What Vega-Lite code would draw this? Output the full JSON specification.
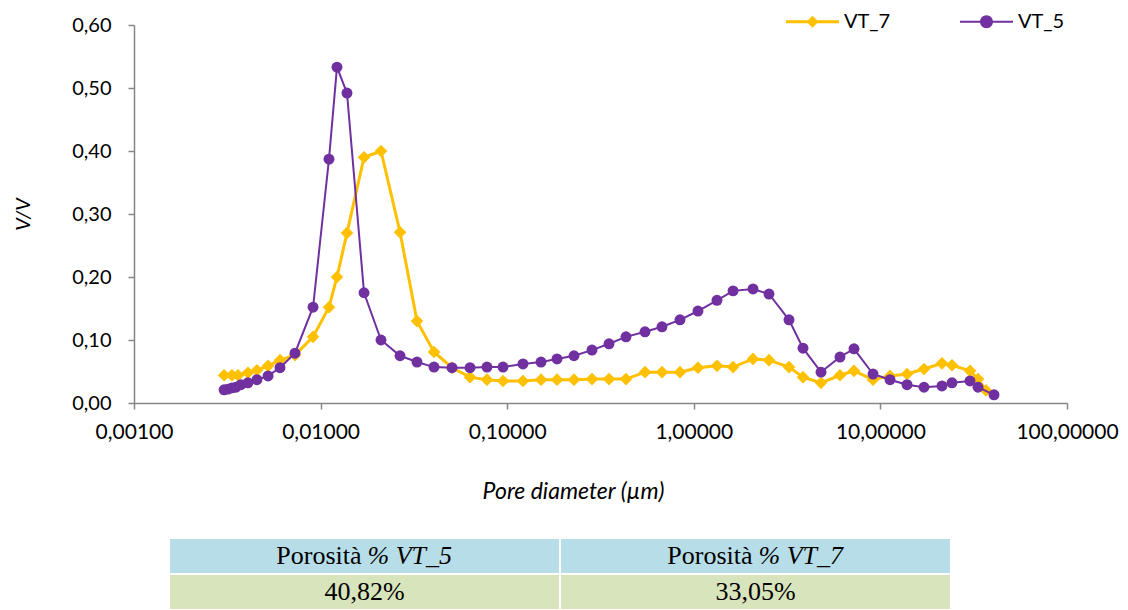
{
  "$schema": "https://vega.github.io/schema/vega-lite/v6.json",
  "padding": {"left": 13, "top": 8, "right": 5, "bottom": 0},
  "bounds": "flush",
  "spacing": 135,
  "config": {"view": {"stroke": null}, "font": "Lato"},
  "resolve": {"scale": {"color": "independent", "shape": "independent", "fill": "independent"}, "legend": {"color": "independent", "shape": "independent", "fill": "independent"}},
  "vconcat": [
    {
      "width": 933,
      "height": 378,
      "data": {"values": [
        {"d":0.00304,"v":0.044,"s":"VT_7"},{"d":0.00335,"v":0.044,"s":"VT_7"},{"d":0.00361,"v":0.044,"s":"VT_7"},{"d":0.00408,"v":0.048,"s":"VT_7"},
        {"d":0.00456,"v":0.052,"s":"VT_7"},{"d":0.00523,"v":0.059,"s":"VT_7"},{"d":0.00606,"v":0.068,"s":"VT_7"},{"d":0.00729,"v":0.076,"s":"VT_7"},
        {"d":0.00911,"v":0.105,"s":"VT_7"},{"d":0.01109,"v":0.152,"s":"VT_7"},{"d":0.01224,"v":0.200,"s":"VT_7"},{"d":0.01385,"v":0.270,"s":"VT_7"},
        {"d":0.01709,"v":0.390,"s":"VT_7"},{"d":0.02107,"v":0.400,"s":"VT_7"},{"d":0.02665,"v":0.271,"s":"VT_7"},{"d":0.03285,"v":0.130,"s":"VT_7"},
        {"d":0.04053,"v":0.081,"s":"VT_7"},{"d":0.05061,"v":0.056,"s":"VT_7"},{"d":0.06321,"v":0.041,"s":"VT_7"},{"d":0.07793,"v":0.037,"s":"VT_7"},
        {"d":0.09495,"v":0.035,"s":"VT_7"},{"d":0.1215,"v":0.035,"s":"VT_7"},{"d":0.1518,"v":0.037,"s":"VT_7"},{"d":0.1849,"v":0.037,"s":"VT_7"},
        {"d":0.2280,"v":0.037,"s":"VT_7"},{"d":0.2847,"v":0.038,"s":"VT_7"},{"d":0.3513,"v":0.038,"s":"VT_7"},{"d":0.4331,"v":0.038,"s":"VT_7"},
        {"d":0.5477,"v":0.049,"s":"VT_7"},{"d":0.6753,"v":0.049,"s":"VT_7"},{"d":0.8433,"v":0.049,"s":"VT_7"},{"d":1.053,"v":0.056,"s":"VT_7"},
        {"d":1.331,"v":0.059,"s":"VT_7"},{"d":1.623,"v":0.057,"s":"VT_7"},{"d":2.077,"v":0.070,"s":"VT_7"},{"d":2.529,"v":0.068,"s":"VT_7"},
        {"d":3.237,"v":0.057,"s":"VT_7"},{"d":3.848,"v":0.041,"s":"VT_7"},{"d":4.805,"v":0.032,"s":"VT_7"},{"d":6.074,"v":0.044,"s":"VT_7"},
        {"d":7.219,"v":0.051,"s":"VT_7"},{"d":9.130,"v":0.037,"s":"VT_7"},{"d":11.26,"v":0.043,"s":"VT_7"},{"d":13.89,"v":0.046,"s":"VT_7"},
        {"d":17.13,"v":0.054,"s":"VT_7"},{"d":21.38,"v":0.063,"s":"VT_7"},{"d":24.19,"v":0.060,"s":"VT_7"},{"d":30.21,"v":0.051,"s":"VT_7"},
        {"d":33.35,"v":0.038,"s":"VT_7"},{"d":36.81,"v":0.020,"s":"VT_7"},
        {"d":0.00304,"v":0.021,"s":"VT_5"},{"d":0.00319,"v":0.022,"s":"VT_5"},{"d":0.00335,"v":0.024,"s":"VT_5"},{"d":0.00352,"v":0.025,"s":"VT_5"},
        {"d":0.00374,"v":0.029,"s":"VT_5"},{"d":0.00408,"v":0.032,"s":"VT_5"},{"d":0.00456,"v":0.037,"s":"VT_5"},{"d":0.00523,"v":0.043,"s":"VT_5"},
        {"d":0.00606,"v":0.056,"s":"VT_5"},{"d":0.00729,"v":0.079,"s":"VT_5"},{"d":0.00911,"v":0.152,"s":"VT_5"},{"d":0.01109,"v":0.387,"s":"VT_5"},
        {"d":0.01224,"v":0.533,"s":"VT_5"},{"d":0.01385,"v":0.492,"s":"VT_5"},{"d":0.01709,"v":0.175,"s":"VT_5"},{"d":0.02107,"v":0.100,"s":"VT_5"},
        {"d":0.02665,"v":0.075,"s":"VT_5"},{"d":0.03285,"v":0.065,"s":"VT_5"},{"d":0.04053,"v":0.057,"s":"VT_5"},{"d":0.05061,"v":0.056,"s":"VT_5"},
        {"d":0.06321,"v":0.056,"s":"VT_5"},{"d":0.07793,"v":0.057,"s":"VT_5"},{"d":0.09495,"v":0.057,"s":"VT_5"},{"d":0.1215,"v":0.062,"s":"VT_5"},
        {"d":0.1518,"v":0.065,"s":"VT_5"},{"d":0.1849,"v":0.070,"s":"VT_5"},{"d":0.2280,"v":0.075,"s":"VT_5"},{"d":0.2847,"v":0.084,"s":"VT_5"},
        {"d":0.3513,"v":0.094,"s":"VT_5"},{"d":0.4331,"v":0.105,"s":"VT_5"},{"d":0.5477,"v":0.113,"s":"VT_5"},{"d":0.6753,"v":0.121,"s":"VT_5"},
        {"d":0.8433,"v":0.132,"s":"VT_5"},{"d":1.053,"v":0.146,"s":"VT_5"},{"d":1.331,"v":0.163,"s":"VT_5"},{"d":1.623,"v":0.178,"s":"VT_5"},
        {"d":2.077,"v":0.181,"s":"VT_5"},{"d":2.529,"v":0.173,"s":"VT_5"},{"d":3.237,"v":0.132,"s":"VT_5"},{"d":3.848,"v":0.087,"s":"VT_5"},
        {"d":4.805,"v":0.049,"s":"VT_5"},{"d":6.074,"v":0.073,"s":"VT_5"},{"d":7.219,"v":0.086,"s":"VT_5"},{"d":9.130,"v":0.046,"s":"VT_5"},
        {"d":11.26,"v":0.037,"s":"VT_5"},{"d":13.89,"v":0.029,"s":"VT_5"},{"d":17.13,"v":0.025,"s":"VT_5"},{"d":21.38,"v":0.027,"s":"VT_5"},
        {"d":24.19,"v":0.032,"s":"VT_5"},{"d":30.21,"v":0.035,"s":"VT_5"},{"d":33.35,"v":0.025,"s":"VT_5"},{"d":40.63,"v":0.013,"s":"VT_5"}
      ]},
      "encoding": {
        "x": {
          "field": "d", "type": "quantitative",
          "scale": {"type": "log", "domain": [0.001, 100]},
          "title": "Pore diameter (µm)",
          "axis": {
            "values": [0.001, 0.01, 0.1, 1, 10, 100],
            "labelExpr": "replace(format(datum.value, '.5f'), '.', ',')",
            "grid": false, "domainColor": "#868686", "domainWidth": 1.5,
            "tickColor": "#868686", "tickWidth": 1.5, "tickSize": 6,
            "labelFont": "Lato", "labelFontSize": 21, "labelColor": "#000000", "labelPadding": 12,
            "labelFlush": false, "labelOverlap": false,
            "titleFont": "Lato", "titleFontSize": 23, "titleFontStyle": "italic", "titleFontWeight": "normal",
            "titleColor": "#000000", "titlePadding": 38, "titleX": 439
          }
        },
        "y": {
          "field": "v", "type": "quantitative",
          "scale": {"domain": [0, 0.6]},
          "title": "V/V",
          "axis": {
            "values": [0, 0.1, 0.2, 0.3, 0.4, 0.5, 0.6],
            "labelExpr": "replace(format(datum.value, '.2f'), '.', ',')",
            "grid": false, "domainColor": "#868686", "domainWidth": 1.5,
            "tickColor": "#868686", "tickWidth": 1.5, "tickSize": 6,
            "labelFont": "Lato", "labelFontSize": 20, "labelColor": "#000000", "labelPadding": 17,
            "titleFont": "Lato", "titleFontSize": 20, "titleFontStyle": "italic", "titleFontWeight": "normal",
            "titleColor": "#000000", "titlePadding": 38
          }
        }
      },
      "layer": [
        {"transform": [{"filter": "datum.s === 'VT_7'"}], "mark": {"type": "line", "color": "#FFC000", "strokeWidth": 3}},
        {"transform": [{"filter": "datum.s === 'VT_7'"}], "mark": {"type": "point", "shape": "diamond", "filled": true, "color": "#FFC000", "size": 160, "opacity": 1}},
        {"transform": [{"filter": "datum.s === 'VT_5'"}], "mark": {"type": "line", "color": "#7030A0", "strokeWidth": 2}},
        {"transform": [{"filter": "datum.s === 'VT_5'"}], "mark": {"type": "point", "shape": "circle", "filled": true, "color": "#7030A0", "size": 120, "opacity": 1}},
        {
          "mark": {"type": "point", "filled": true, "opacity": 0},
          "encoding": {
            "color": {"field": "s", "type": "nominal", "scale": {"domain": ["VT_7", "VT_5"], "range": ["#FFC000", "#7030A0"]},
              "legend": {"title": null, "orient": "none", "legendX": 665, "legendY": -17, "direction": "horizontal",
                "symbolSize": 702, "symbolOpacity": 1, "symbolStrokeWidth": 0, "labelFont": "Lato", "labelFontSize": 20,
                "labelColor": "#000000", "labelOffset": 18, "columnPadding": 69}},
            "shape": {"field": "s", "type": "nominal", "scale": {"domain": ["VT_7", "VT_5"],
              "range": ["M-2,-0.113H2V0.113H-2Z M0,-0.45L0.45,0L0,0.45L-0.45,0Z", "M-2,-0.075H2V0.075H-2Z M0.49,0A0.49,0.49,0,1,1,-0.49,0A0.49,0.49,0,1,1,0.49,0Z"]},
              "legend": {"title": null, "orient": "none", "legendX": 665, "legendY": -17, "direction": "horizontal",
                "symbolSize": 702, "symbolOpacity": 1, "symbolStrokeWidth": 0, "labelFont": "Lato", "labelFontSize": 20,
                "labelColor": "#000000", "labelOffset": 18, "columnPadding": 69}}
          }
        }
      ]
    },
    {
      "width": 933,
      "height": 72,
      "data": {"values": [
        {"col": "VT_5", "row": "h", "t1": "Porosità", "t2": "% VT_5"},
        {"col": "VT_7", "row": "h", "t1": "Porosità", "t2": "% VT_7"},
        {"col": "VT_5", "row": "v", "t1": "40,82%"},
        {"col": "VT_7", "row": "v", "t1": "33,05%"}
      ]},
      "encoding": {
        "x": {"field": "col", "type": "nominal", "scale": {"domain": ["VT_5", "VT_7"], "range": [35, 817], "paddingInner": 0, "paddingOuter": 0}, "axis": null},
        "y": {"field": "row", "type": "nominal", "scale": {"domain": ["h", "v"], "paddingInner": 0, "paddingOuter": 0}, "axis": null}
      },
      "layer": [
        {"mark": {"type": "rect", "stroke": "#ffffff", "strokeWidth": 2},
         "encoding": {"fill": {"field": "row", "type": "nominal", "scale": {"domain": ["h", "v"], "range": ["#b7dee8", "#d8e4bc"]}, "legend": null}}},
        {"transform": [{"filter": "datum.row === 'h'"}],
         "mark": {"type": "text", "align": "right", "dx": -3, "font": "Liberation Serif", "fontSize": 26, "color": "#000000"},
         "encoding": {"text": {"field": "t1"}}},
        {"transform": [{"filter": "datum.row === 'h'"}],
         "mark": {"type": "text", "align": "left", "dx": 3, "font": "Liberation Serif", "fontSize": 26, "fontStyle": "italic", "color": "#000000"},
         "encoding": {"text": {"field": "t2"}}},
        {"transform": [{"filter": "datum.row === 'v'"}],
         "mark": {"type": "text", "align": "center", "font": "Liberation Serif", "fontSize": 26, "color": "#000000"},
         "encoding": {"text": {"field": "t1"}}}
      ]
    }
  ]
}
